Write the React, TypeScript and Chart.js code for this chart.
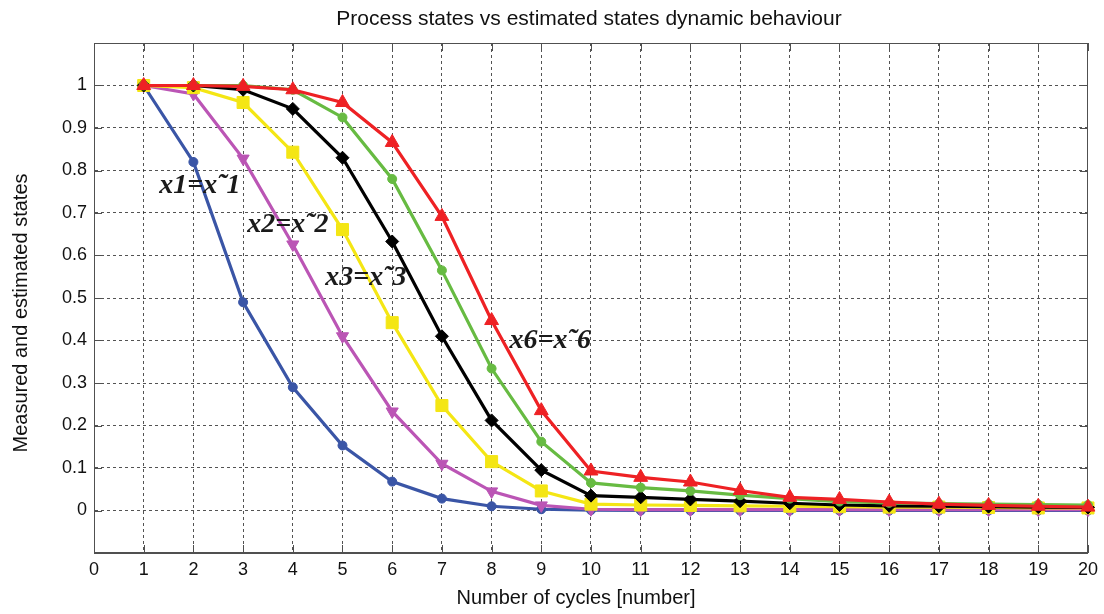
import React, { useEffect, useRef } from "react";
import { Chart, registerables } from "chart.js";

Chart.register(...registerables);

// ---- data ----
const cycles = [1, 2, 3, 4, 5, 6, 7, 8, 9, 10, 11, 12, 13, 14, 15, 16, 17, 18, 19, 20];
const x1 = [1, 0.82, 0.49, 0.29, 0.153, 0.068, 0.028, 0.01, 0.003, 0.001, 0, 0, 0, 0, 0, 0, 0, 0, 0, 0];
const x2 = [1, 0.98, 0.828, 0.626, 0.41, 0.233, 0.11, 0.045, 0.012, 0.003, 0.002, 0.002, 0.002, 0.002, 0.002, 0.002, 0.002, 0.002, 0.002, 0.002];
const x3 = [1, 0.995, 0.96, 0.843, 0.661, 0.442, 0.247, 0.115, 0.046, 0.015, 0.013, 0.012, 0.011, 0.01, 0.009, 0.008, 0.008, 0.007, 0.006, 0.006];
const x4 = [1, 1, 0.99, 0.945, 0.83, 0.633, 0.41, 0.212, 0.095, 0.035, 0.031, 0.026, 0.022, 0.017, 0.013, 0.011, 0.01, 0.009, 0.008, 0.007];
const x5 = [1, 1, 1, 0.99, 0.925, 0.78, 0.565, 0.334, 0.162, 0.065, 0.054, 0.046, 0.036, 0.028, 0.021, 0.018, 0.016, 0.015, 0.014, 0.013];
const x6 = [1, 1, 0.998, 0.99, 0.96, 0.866, 0.692, 0.447, 0.235, 0.093, 0.078, 0.067, 0.047, 0.031, 0.026, 0.02, 0.015, 0.012, 0.01, 0.008];

const seriesNames = ["x1", "x2", "x3", "x4", "x5", "x6"];
const seriesValues = [x1, x2, x3, x4, x5, x6];

const xTickValues = [0, 1, 2, 3, 4, 5, 6, 7, 8, 9, 10, 11, 12, 13, 14, 15, 16, 17, 18, 19, 20];
const yTickLabels = ["0", "0.1", "0.2", "0.3", "0.4", "0.5", "0.6", "0.7", "0.8", "0.9", "1"];

const annotationTexts = ["x1=x\u02DC1", "x2=x\u02DC2", "x3=x\u02DC3", "x6=x\u02DC6"];
const annotationCycle = [2.13, 3.9, 5.47, 9.18];
const annotationValue = [0.765, 0.672, 0.547, 0.4];

const titleText = "Process states vs estimated states dynamic behaviour";
const xLabel = "Number of cycles [number]";
const yLabel = "Measured and estimated states";

// ---- styles ----
const styles = [
  { color: "#3a55a6", pointStyle: "circle", radius: 4.5, rotation: 0, order: 6 },
  { color: "#bb55b5", pointStyle: "triangle", radius: 7, rotation: 180, order: 5 },
  { color: "#f4e614", pointStyle: "rect", radius: 8.5, rotation: 0, order: 4 },
  { color: "#000000", pointStyle: "rectRot", radius: 6.5, rotation: 0, order: 3 },
  { color: "#67bb42", pointStyle: "circle", radius: 4.5, rotation: 0, order: 2 },
  { color: "#ee2124", pointStyle: "triangle", radius: 8, rotation: 0, order: 1 },
];

const SANS = "'Liberation Sans', Arial, sans-serif";

const framePlugin = {
  id: "frame",
  beforeDatasetsDraw(chart: any) {
    const { ctx, chartArea, scales } = chart;
    const { left, top, right, bottom } = chartArea;
    ctx.save();
    ctx.strokeStyle = "#505050";
    ctx.lineWidth = 1;
    ctx.beginPath();
    xTickValues.forEach((v) => {
      const px = Math.round(scales.x.getPixelForValue(v)) + 0.5;
      ctx.moveTo(px, bottom);
      ctx.lineTo(px, bottom - 8);
      ctx.moveTo(px, top);
      ctx.lineTo(px, top + 8);
    });
    scales.y.ticks.forEach((t: any) => {
      const py = Math.round(scales.y.getPixelForValue(t.value)) + 0.5;
      ctx.moveTo(left, py);
      ctx.lineTo(left + 8, py);
      ctx.moveTo(right, py);
      ctx.lineTo(right - 8, py);
    });
    ctx.stroke();
    ctx.strokeRect(Math.round(left) + 0.5, Math.round(top) + 0.5, Math.round(right - left) - 1, Math.round(bottom - top) - 1);
    ctx.restore();
  },
};

const textPlugin = {
  id: "texts",
  afterDraw(chart: any) {
    const { ctx, chartArea, scales } = chart;
    ctx.save();
    ctx.fillStyle = "#111";
    ctx.textAlign = "center";
    ctx.textBaseline = "middle";
    ctx.font = `21px ${SANS}`;
    ctx.fillText(titleText, (chartArea.left + chartArea.right) / 2 - 2, 19);
    ctx.font = `20px ${SANS}`;
    ctx.fillText(xLabel, 576, 598);
    ctx.save();
    ctx.translate(21, 313);
    ctx.rotate(-Math.PI / 2);
    ctx.fillText(yLabel, 0, 0);
    ctx.restore();
    ctx.font = `bold italic 28px 'Liberation Serif', 'Times New Roman', serif`;
    ctx.fillStyle = "#1a1a1a";
    annotationTexts.forEach((t, i) => {
      ctx.fillText(t, scales.x.getPixelForValue(annotationCycle[i]), scales.y.getPixelForValue(annotationValue[i]));
    });
    ctx.restore();
  },
};

export default function App() {
  const ref = useRef<HTMLCanvasElement | null>(null);
  useEffect(() => {
    if (!ref.current) return;
    const datasets = seriesValues.map((vals, i) => ({
      label: seriesNames[i],
      data: cycles.map((c, j) => ({ x: c, y: vals[j] })),
      borderColor: styles[i].color,
      backgroundColor: styles[i].color,
      borderWidth: 3.2,
      pointStyle: styles[i].pointStyle as any,
      pointRadius: styles[i].radius,
      pointRotation: styles[i].rotation,
      pointBorderWidth: 1,
      pointBorderColor: styles[i].color,
      pointBackgroundColor: styles[i].color,
      tension: 0,
      order: styles[i].order,
      clip: false as any,
    }));
    const chart = new Chart(ref.current, {
      type: "line",
      data: { datasets },
      plugins: [framePlugin, textPlugin],
      options: {
        animation: false,
        responsive: false,
        maintainAspectRatio: false,
        layout: { padding: { top: 43, right: 14, left: 0, bottom: 0 } },
        plugins: { legend: { display: false }, tooltip: { enabled: false }, title: { display: false } },
        scales: {
          x: {
            type: "linear",
            min: 0,
            max: 20,
            afterFit: (s: any) => { s.height = 61; },
            ticks: {
              stepSize: 1,
              color: "#111",
              font: { family: SANS, size: 18 },
              padding: 6,
              maxRotation: 0,
              callback: (v: any) => String(Math.round(Number(v))),
            },
            grid: { color: "rgba(40,40,40,0.8)", lineWidth: 1, drawTicks: false },
            border: { display: true, color: "#505050", dash: [3, 3] },
          },
          y: {
            type: "linear",
            min: -0.1,
            max: 1.1,
            afterFit: (s: any) => { s.width = 94; },
            ticks: {
              stepSize: 0.1,
              color: "#111",
              font: { family: SANS, size: 18 },
              padding: 7,
              callback: (v: any) => {
                const idx = Math.round(Number(v) * 10);
                return idx >= 0 && idx < yTickLabels.length ? yTickLabels[idx] : "";
              },
            },
            grid: { color: "rgba(40,40,40,0.8)", lineWidth: 1, drawTicks: false },
            border: { display: true, color: "#505050", dash: [3, 3] },
          },
        },
      },
    });
    return () => chart.destroy();
  }, []);
  return (
    <div style={{ position: "fixed", left: 0, top: 0, width: 1104, height: 614, background: "#fff" }}>
      <canvas ref={ref} width={1104} height={614} style={{ display: "block" }} />
    </div>
  );
}
